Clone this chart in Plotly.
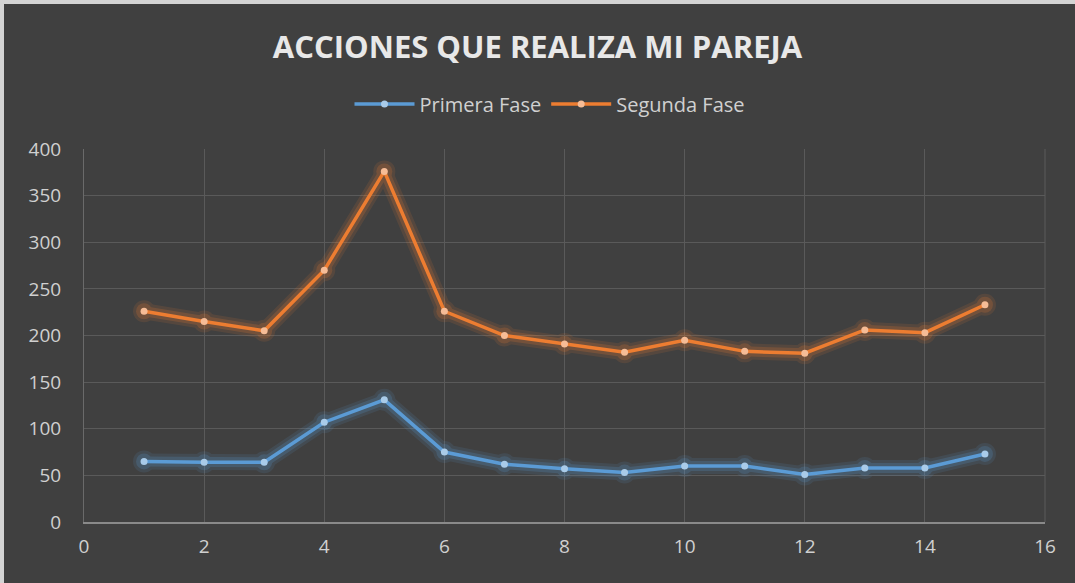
import plotly.graph_objects as go

x_vals = list(range(1, 16))
primera = [65, 64, 64, 107, 131, 75, 62, 57, 53, 60, 60, 51, 58, 58, 73]
segunda = [226, 215, 205, 270, 376, 226, 200, 191, 182, 195, 183, 181, 206, 203, 233]
names = ["Primera Fase", "Segunda Fase"]
title_text = "ACCIONES QUE REALIZA MI PAREJA"

blue = "#5b9bd5"
orange = "#ed7d31"
blue_m = "#a9cbe9"
orange_m = "#f6bc96"
font_fam = "Open Sans, Noto Sans, sans-serif"

fig = go.Figure()
# glow layers
for ys, c in [(primera, blue), (segunda, orange)]:
    for w, op in [(16, 0.12), (10, 0.2)]:
        fig.add_trace(go.Scatter(x=x_vals, y=ys, mode="lines+markers",
                                 line=dict(color=c, width=w), marker=dict(size=w + 6, color=c),
                                 opacity=op, showlegend=False, hoverinfo="skip"))

fig.add_trace(go.Scatter(x=x_vals, y=primera, name=names[0], mode="lines+markers",
                         line=dict(color=blue, width=3.5),
                         marker=dict(size=7, color=blue_m)))
fig.add_trace(go.Scatter(x=x_vals, y=segunda, name=names[1], mode="lines+markers",
                         line=dict(color=orange, width=3.5),
                         marker=dict(size=7, color=orange_m)))

W, H = 1075, 583
ml, mr, mt, mb = 84, 30, 149, 61
pw, ph = W - ml - mr, H - mt - mb

fig.update_layout(
    width=W, height=H,
    paper_bgcolor="#404040", plot_bgcolor="#404040",
    margin=dict(l=ml, r=mr, t=mt, b=mb),
    title=dict(text=f"<b>{title_text}</b>", x=0.5, xanchor="center", y=1 - 47 / H, yanchor="middle",
               font=dict(family=font_fam, size=31, color="#e8e8e8")),
    legend=dict(orientation="h", x=(550 - ml) / pw, xanchor="center", y=1 + (149 - 104) / ph, yanchor="middle",
                font=dict(family=font_fam, size=20, color="#d0d0d0"),
                bgcolor="rgba(0,0,0,0)", itemwidth=60),
    xaxis=dict(range=[0, 16], dtick=2, tick0=0, showgrid=True, gridcolor="#5a5a5a", gridwidth=1,
               showline=True, linecolor="#8a8a8a", linewidth=1.5, zeroline=False, mirror=False,
               ticks="", tickfont=dict(family=font_fam, size=19, color="#d0d0d0")),
    yaxis=dict(range=[0, 400], dtick=50, showgrid=True, gridcolor="#5a5a5a", gridwidth=1,
               showline=True, linecolor="#6a6a6a", linewidth=1, zeroline=False,
               ticks="", tickfont=dict(family=font_fam, size=19, color="#d0d0d0")),
    shapes=[
        dict(type="line", xref="paper", yref="paper", x0=1, x1=1, y0=0, y1=1,
             line=dict(color="#5a5a5a", width=1)),
        dict(type="rect", xref="paper", yref="paper", x0=-ml / pw, x1=1 + mr / pw,
             y0=1 + (mt - 4) / ph, y1=1 + mt / ph, fillcolor="#d4d4d4", line=dict(width=0), layer="above"),
        dict(type="rect", xref="paper", yref="paper", x0=-ml / pw, x1=-(ml - 4) / pw,
             y0=-mb / ph, y1=1 + mt / ph, fillcolor="#d4d4d4", line=dict(width=0), layer="above"),
    ],
)
fig.update_yaxes(ticklabelstandoff=18)
fig.update_xaxes(ticklabelstandoff=6)
fig.write_html("out.html", config={"displayModeBar": False},
               post_script="document.body.style.margin='0px';")
